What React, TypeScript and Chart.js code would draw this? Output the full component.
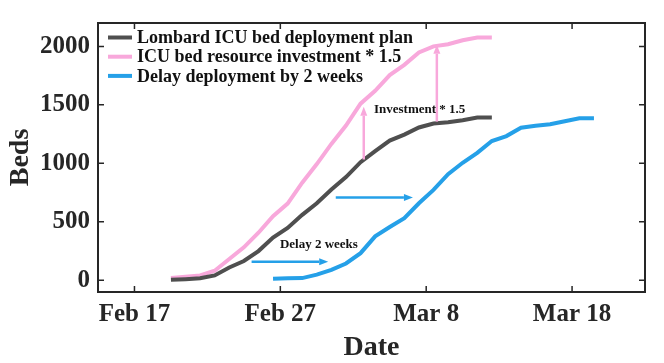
import React, { useEffect, useRef } from "react";
import { Chart, registerables } from "chart.js";

Chart.register(...registerables);

// ---- data ----
const planDays = [19.5, 20.5, 21.5, 22.5, 23.5, 24.5, 25.5, 26.5, 27.5, 28.5, 29.5, 30.5, 31.5, 32.5, 33.5, 34.5, 35.5, 36.5, 37.5, 38.5, 39.5, 40.5, 41.5];
const planBeds = [5, 10, 17, 42, 110, 165, 250, 365, 448, 560, 659, 777, 883, 1010, 1105, 1195, 1246, 1307, 1340, 1351, 1368, 1391, 1391];
const investBeds = [19, 30, 42, 82, 182, 282, 407, 548, 656, 835, 994, 1166, 1323, 1510, 1620, 1755, 1842, 1948, 2000, 2018, 2052, 2075, 2075];
const delayDays = [26.5, 27.5, 28.5, 29.5, 30.5, 31.5, 32.5, 33.5, 34.5, 35.5, 36.5, 37.5, 38.5, 39.5, 40.5, 41.5, 42.5, 43.5, 44.5, 45.5, 46.5, 47.5, 48.5];
const delayBeds = [14, 17, 19, 48, 89, 144, 232, 376, 456, 532, 659, 773, 908, 1005, 1090, 1191, 1233, 1305, 1322, 1334, 1360, 1385, 1385];

const seriesLabels = ["Lombard ICU bed deployment plan", "ICU bed resource investment * 1.5", "Delay deployment by 2 weeks"];
const seriesColors = ["#4f4f4f", "#f8a8db", "#25a0e8"];

const tickDays = [17, 27, 37, 47];
const tickLabels = ["Feb 17", "Feb 27", "Mar 8", "Mar 18"];
const yTickValues = [0, 500, 1000, 1500, 2000];

// annotations (data coordinates)
const investArrowDays = [32.72, 37.73];
const investArrowFrom = [1033, 1357];
const investArrowTo = [1484, 2013];
const investText = "Investment * 1.5";
const investTextAt = [33.42, 1461];
const delayArrowBeds = [158, 709];
const delayArrowFrom = [25.03, 30.8];
const delayArrowTo = [30.28, 36.09];
const delayText = "Delay 2 weeks";
const delayTextAt = [26.97, 301];

const FAMILY = '"Liberation Serif", "Times New Roman", serif';
const AXIS_COLOR = "#262626";

function drawArrow(ctx: CanvasRenderingContext2D, x1: number, y1: number, x2: number, y2: number, color: string, lw: number, headLen: number, headHalf: number) {
  const ang = Math.atan2(y2 - y1, x2 - x1);
  const bx = x2 - Math.cos(ang) * headLen;
  const by = y2 - Math.sin(ang) * headLen;
  ctx.save();
  ctx.strokeStyle = color;
  ctx.fillStyle = color;
  ctx.lineWidth = lw;
  ctx.beginPath();
  ctx.moveTo(x1, y1);
  ctx.lineTo(bx, by);
  ctx.stroke();
  ctx.beginPath();
  ctx.moveTo(x2, y2);
  ctx.lineTo(bx + Math.sin(ang) * headHalf, by - Math.cos(ang) * headHalf);
  ctx.lineTo(bx - Math.sin(ang) * headHalf, by + Math.cos(ang) * headHalf);
  ctx.closePath();
  ctx.fill();
  ctx.restore();
}

const decorPlugin = {
  id: "decor",
  afterDatasetsDraw(chart: any) {
    const { ctx, chartArea: a, scales } = chart;
    const xs = scales.x;
    const ys = scales.y;
    ctx.save();
    // annotations
    for (let i = 0; i < investArrowDays.length; i++) {
      const x = xs.getPixelForValue(investArrowDays[i]);
      drawArrow(ctx, x, ys.getPixelForValue(investArrowFrom[i]), x, ys.getPixelForValue(investArrowTo[i]), seriesColors[1], 2.5, 9, 3.5);
    }
    for (let i = 0; i < delayArrowBeds.length; i++) {
      const y = ys.getPixelForValue(delayArrowBeds[i]);
      drawArrow(ctx, xs.getPixelForValue(delayArrowFrom[i]), y, xs.getPixelForValue(delayArrowTo[i]), y, seriesColors[2], 2.5, 9, 3.5);
    }
    ctx.fillStyle = "#111";
    ctx.font = `bold 13px ${FAMILY}`;
    ctx.textBaseline = "middle";
    ctx.textAlign = "left";
    ctx.fillText(investText, xs.getPixelForValue(investTextAt[0]), ys.getPixelForValue(investTextAt[1]));
    ctx.fillText(delayText, xs.getPixelForValue(delayTextAt[0]), ys.getPixelForValue(delayTextAt[1]));

    // box
    ctx.strokeStyle = AXIS_COLOR;
    ctx.lineWidth = 2;
    ctx.strokeRect(a.left, a.top, a.right - a.left, a.bottom - a.top);
    // inward ticks
    ctx.lineWidth = 1.5;
    const tl = 6;
    ctx.beginPath();
    for (const v of tickDays) {
      const x = xs.getPixelForValue(v);
      ctx.moveTo(x, a.bottom);
      ctx.lineTo(x, a.bottom - tl);
      ctx.moveTo(x, a.top);
      ctx.lineTo(x, a.top + tl);
    }
    for (const v of yTickValues) {
      const y = ys.getPixelForValue(v);
      ctx.moveTo(a.left, y);
      ctx.lineTo(a.left + tl, y);
      ctx.moveTo(a.right, y);
      ctx.lineTo(a.right - tl, y);
    }
    ctx.stroke();

    // legend
    ctx.font = `bold 18px ${FAMILY}`;
    ctx.textBaseline = "middle";
    ctx.textAlign = "left";
    chart.data.datasets.forEach((ds: any, i: number) => {
      const y = a.top + 14.5 + i * 19.2;
      ctx.strokeStyle = ds.borderColor;
      ctx.lineWidth = 4;
      ctx.beginPath();
      ctx.moveTo(a.left + 10, y);
      ctx.lineTo(a.left + 34, y);
      ctx.stroke();
      ctx.fillStyle = "#111";
      ctx.fillText(ds.label, a.left + 39, y + 1);
    });
    ctx.restore();
  },
};

export default function App() {
  const ref = useRef<HTMLCanvasElement | null>(null);

  useEffect(() => {
    document.body.style.margin = "0";
    const canvas = ref.current!;
    const tickFont = { family: FAMILY, size: 25, weight: "bold" as const };
    const titleFont = { family: FAMILY, size: 28, weight: "bold" as const, lineHeight: 1 };
    const chart = new Chart(canvas, {
      type: "line",
      data: {
        datasets: [
          { label: seriesLabels[0], data: planDays.map((d, i) => ({ x: d, y: planBeds[i] })), borderColor: seriesColors[0], backgroundColor: seriesColors[0], borderWidth: 4, pointRadius: 0, tension: 0 },
          { label: seriesLabels[1], data: planDays.map((d, i) => ({ x: d, y: investBeds[i] })), borderColor: seriesColors[1], backgroundColor: seriesColors[1], borderWidth: 4, pointRadius: 0, tension: 0 },
          { label: seriesLabels[2], data: delayDays.map((d, i) => ({ x: d, y: delayBeds[i] })), borderColor: seriesColors[2], backgroundColor: seriesColors[2], borderWidth: 4, pointRadius: 0, tension: 0 },
        ],
      },
      options: {
        animation: false,
        responsive: false,
        events: [],
        layout: { padding: { left: 0, right: 19, top: 19, bottom: 0 } },
        plugins: { legend: { display: false }, tooltip: { enabled: false } },
        scales: {
          x: {
            type: "linear",
            min: 14.5,
            max: 52,
            grid: { display: false, drawTicks: false },
            border: { display: false },
            afterBuildTicks: (s: any) => {
              s.ticks = tickDays.map((v) => ({ value: v }));
            },
            afterFit: (s: any) => {
              s.height = 71;
            },
            ticks: {
              autoSkip: false,
              maxRotation: 0,
              padding: 8,
              color: AXIS_COLOR,
              font: tickFont,
              callback: (_v: any, i: number) => tickLabels[i],
            },
            title: { display: true, text: "Date", color: AXIS_COLOR, font: titleFont, padding: { top: 0, bottom: 1 } },
          },
          y: {
            type: "linear",
            min: -100,
            max: 2200,
            grid: { display: false, drawTicks: false },
            border: { display: false },
            afterBuildTicks: (s: any) => {
              s.ticks = yTickValues.map((v) => ({ value: v }));
            },
            afterFit: (s: any) => {
              s.width = 98;
            },
            ticks: {
              autoSkip: false,
              padding: 8,
              color: AXIS_COLOR,
              font: tickFont,
              callback: (v: any) => String(v),
            },
            title: { display: true, text: "Beds", color: AXIS_COLOR, font: titleFont, padding: { top: 7, bottom: 0 } },
          },
        },
      },
      plugins: [decorPlugin],
    });
    return () => chart.destroy();
  }, []);

  return (
    <div style={{ width: 664, height: 363, overflow: "hidden" }}>
      <canvas ref={ref} width={664} height={363} style={{ display: "block", width: 664, height: 363 }} />
    </div>
  );
}
